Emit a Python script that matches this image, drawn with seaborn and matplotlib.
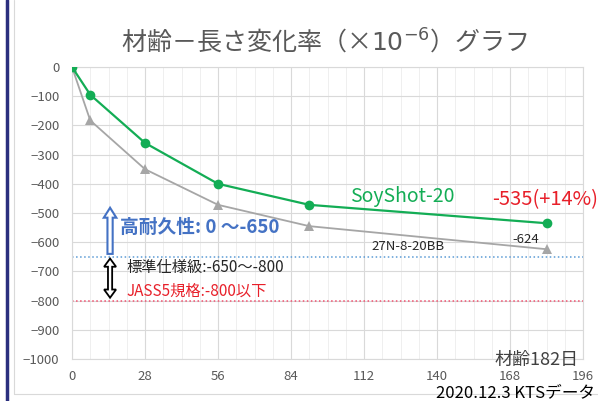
import numpy as np
import pandas as pd
import matplotlib.pyplot as plt
import matplotlib.patches as mpatches
from matplotlib.lines import Line2D
import seaborn as sns

# data
days = [0, 7, 28, 56, 91, 182]
soyshot = [0, -95, -260, -400, -472, -535]
base_27n = [0, -183, -350, -472, -545, -624]

x_ticks = [0, 28, 56, 84, 112, 140, 168, 196]
y_ticks = list(range(-1000, 1, 100))
high_limit = -650
jass_limit = -800

GREEN = '#13AD55'
GRAY = '#A6A6A6'
BLUE = '#4472C4'
RED = '#E8202A'

sns.set_style('white')
plt.rcParams['font.family'] = ['Noto Sans CJK JP', 'DejaVu Sans']

df = pd.DataFrame({'day': days, 'SoyShot-20': soyshot, '27N-8-20BB': base_27n})

fig = plt.figure(figsize=(5.98, 4.01), dpi=100)
ax = fig.add_axes([0.1204, 0.1047, 0.975 - 0.1204, 0.8329 - 0.1047])

sns.lineplot(data=df, x='day', y='27N-8-20BB', ax=ax, color=GRAY, lw=1.3,
             marker='^', markersize=7, markeredgewidth=0, zorder=3)
sns.lineplot(data=df, x='day', y='SoyShot-20', ax=ax, color=GREEN, lw=1.6,
             marker='o', markersize=7, markeredgewidth=0, zorder=4)

ax.set_xlim(0, 196)
ax.set_ylim(-1000, 0)
ax.set_xticks(x_ticks)
ax.set_yticks(y_ticks)
ax.set_xticks(np.arange(0, 197, 7), minor=True)
ax.grid(which='major', color='#D9D9D9', lw=0.8)
ax.grid(which='minor', axis='x', color='#EFEFEF', lw=0.7)
ax.set_axisbelow(True)
ax.tick_params(which='both', length=0, labelsize=9.5, labelcolor='#595959')
ax.tick_params(axis='x', pad=8)
ax.tick_params(axis='y', pad=9)
for s in ax.spines.values():
    s.set_color('#D9D9D9')
    s.set_linewidth(0.8)
ax.set_xlabel('')
ax.set_ylabel('')

ax.axhline(high_limit, color='#5B9BD5', ls=':', lw=1.1, zorder=2)
ax.axhline(jass_limit, color='#F0506E', ls=':', lw=1.1, zorder=2)

# hollow arrows
def arrow_poly(xc, y0, y1, shaft, head_w, head_l, double=False):
    if double:
        pts = [(xc, y1), (xc + head_w / 2, y1 - head_l), (xc + shaft / 2, y1 - head_l),
               (xc + shaft / 2, y0 + head_l), (xc + head_w / 2, y0 + head_l), (xc, y0),
               (xc - head_w / 2, y0 + head_l), (xc - shaft / 2, y0 + head_l),
               (xc - shaft / 2, y1 - head_l), (xc - head_w / 2, y1 - head_l)]
    else:
        pts = [(xc, y1), (xc + head_w / 2, y1 - head_l), (xc + shaft / 2, y1 - head_l),
               (xc + shaft / 2, y0), (xc - shaft / 2, y0), (xc - shaft / 2, y1 - head_l),
               (xc - head_w / 2, y1 - head_l)]
    return mpatches.Polygon(pts, closed=True, fc='white', zorder=5)

p = arrow_poly(14.6, -640, -482, 2.0, 4.8, 34)
p.set_edgecolor(BLUE); p.set_linewidth(1.5)
ax.add_patch(p)
p = arrow_poly(14.6, -790, -656, 1.6, 4.6, 28, double=True)
p.set_edgecolor('black'); p.set_linewidth(1.3)
ax.add_patch(p)

ax.text(18.4, -551, '高耐久性: 0 ～-650', color=BLUE, fontsize=13.5,
        fontweight='bold', va='center', ha='left')
ax.text(21, -685, '標準仕様級:-650～-800', color='#262626', fontsize=11,
        va='center', ha='left')
ax.text(21, -767, 'JASS5規格:-800以下', color=RED, fontsize=11,
        va='center', ha='left')
ax.text(106.6, -445, 'SoyShot-20', color=GREEN, fontsize=14,
        va='center', ha='left')
ax.text(161, -455, '-535(+14%)', color=RED, fontsize=14.5,
        va='center', ha='left', clip_on=False)
ax.text(115, -613, '27N-8-20BB', color='#262626', fontsize=9.5,
        va='center', ha='left')
ax.text(169, -592, '-624', color='#262626', fontsize=9.5,
        va='center', ha='left')

fig.text(0.543, 0.893, '材齢－長さ変化率（×$10^{-6}$）グラフ', color='#595959',
         fontsize=18, ha='center', va='center')
fig.text(0.968, 0.102, '材齢182日', color='#404040', fontsize=13,
         ha='right', va='center')
fig.text(0.995, 0.02, '2020.12.3 KTSデータ', color='black', fontsize=12,
         ha='right', va='center')

# frame of the original sheet
fig.add_artist(Line2D([0.012, 0.012], [0, 1], color='#2B2F7E', lw=2.5))
fig.add_artist(Line2D([0.024, 0.024], [0.018, 1], color='#D9D9D9', lw=0.8))
fig.add_artist(Line2D([0.024, 1], [0.018, 0.018], color='#D9D9D9', lw=0.8))

fig.savefig('out.png', dpi=100)
